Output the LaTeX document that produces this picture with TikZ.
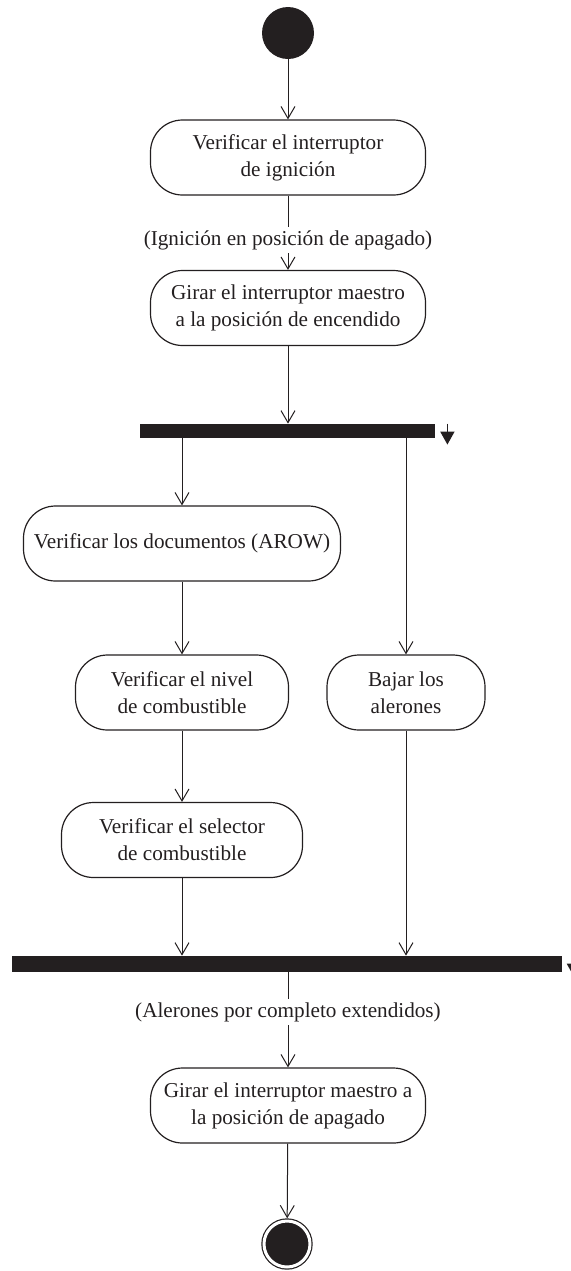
\documentclass[tikz,border=0pt]{standalone}
\usepackage{fontspec}
\setmainfont{Liberation Serif}
\usetikzlibrary{arrows.meta, positioning}
\definecolor{ink}{RGB}{35,31,32}

\begin{document}
\begin{tikzpicture}[
    x=0.5pt, y=-0.5pt, color=ink,
    action/.style={rectangle, draw, line width=0.6pt, rounded corners=16pt,
                   minimum height=37.5pt, font=\fontsize{10.6}{13.5}\selectfont,
                   align=center, inner sep=2pt},
    bar/.style={rectangle, fill=ink, inner sep=0pt,
                minimum height=7pt},
    guard/.style={font=\fontsize{10.6}{13.5}\selectfont, inner sep=1.5pt},
    initial/.style={circle, fill=ink, minimum size=26pt, inner sep=0pt},
    final/.style={circle, draw, fill=ink, double=white,
                  double distance=1.5pt, line width=0.6pt,
                  minimum size=23pt, inner sep=0pt, outer sep=1.35pt},
    arr/.style={-{Straight Barb[length=6pt,width=7pt]}, line width=0.5pt},
    line/.style={line width=0.5pt},
    hint/.style={-{Triangle[length=6.5pt,width=7pt]}, line width=0.8pt}
]
    \useasboundingbox (0,0) rectangle (570,1271);

    \node[initial] (start) at (288,33) {};
    \node[action, minimum width=137.5pt] (ign) at (288,157.5)
        {Verificar el interruptor\\de ignición};
    \node[guard] (g1) at (288,240) {(Ignición en posición de apagado)};
    \node[action, minimum width=137.5pt] (maestro) at (288,308)
        {Girar el interruptor maestro\\a la posición de encendido};
    \node[bar, minimum width=147.5pt] (fork) at (287.5,431) {};
    \node[action, minimum width=158.5pt] (docs) at (182,543.5)
        {Verificar los documentos (AROW)};
    \node[action, minimum width=106.5pt] (nivel) at (182,692.5)
        {Verificar el nivel\\de combustible};
    \node[action, minimum width=79pt] (bajar) at (406,692.5)
        {Bajar los\\alerones};
    \node[action, minimum width=120.5pt] (selector) at (182,840)
        {Verificar el selector\\de combustible};
    \node[bar, minimum width=275pt, minimum height=8pt] (join) at (286.5,964) {};
    \node[guard] (g2) at (288,1012) {(Alerones por completo extendidos)};
    \node[action, minimum width=137.5pt] (apagado) at (288,1105.5)
        {Girar el interruptor maestro a\\la posición de apagado};
    \node[final] (end) at (287,1244) {};

    \coordinate (forkhint) at ([xshift=6pt]fork.north east);
    \coordinate (joinhint) at ([xshift=6pt]join.north east);

    \draw[arr]  (start) -- (ign);
    \draw[line] (ign) -- (g1);
    \draw[arr]  (g1) -- (maestro);
    \draw[arr]  (maestro) -- (maestro |- fork.north);
    \draw[arr]  (fork.south -| docs) -- (docs);
    \draw[arr]  (docs) -- (nivel);
    \draw[arr]  (nivel) -- (selector);
    \draw[arr]  (fork.south -| bajar) -- (bajar);
    \draw[arr]  (selector) -- (selector |- join.north);
    \draw[arr]  (bajar) -- (bajar |- join.north);
    \draw[line] (join.south -| g2) -- (g2);
    \draw[arr]  (g2) -- (apagado);
    \draw[arr]  (apagado) -- (end);
    \draw[hint] (forkhint) -- ++(0,21);
    \draw[hint] (joinhint) -- ++(0,21);
\end{tikzpicture}
\end{document}
